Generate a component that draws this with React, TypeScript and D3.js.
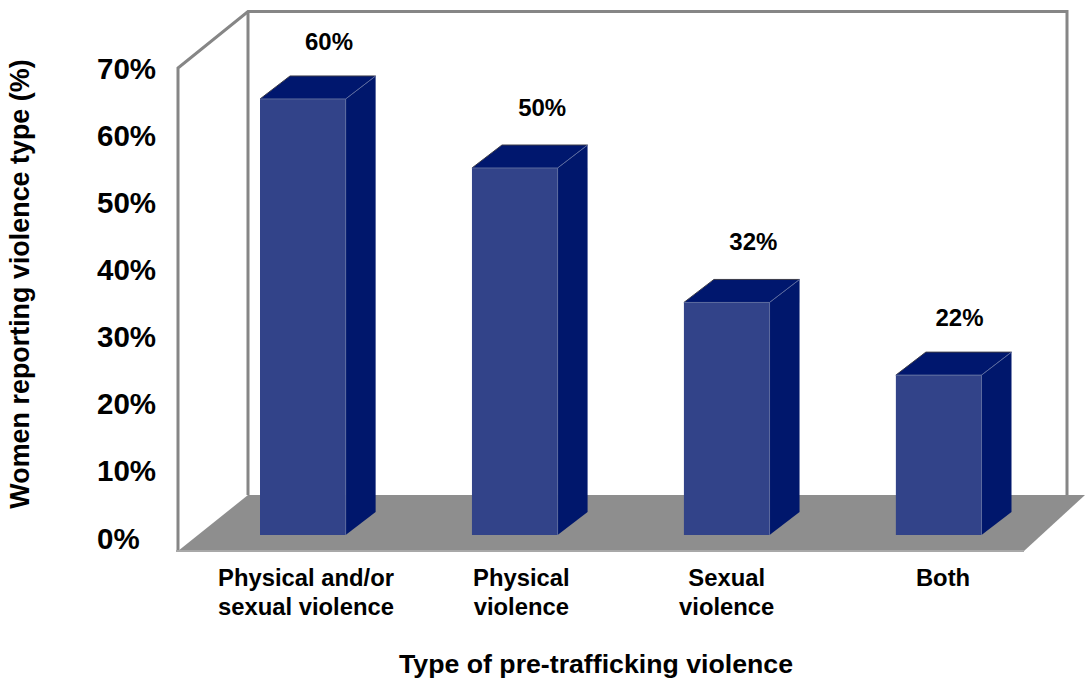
import React from 'react';
import * as d3 from 'd3';

const categories = ['Physical and/or sexual violence', 'Physical violence', 'Sexual violence', 'Both'];
const categoryLines = [['Physical and/or', 'sexual violence'], ['Physical', 'violence'], ['Sexual', 'violence'], ['Both']];
const barValues = [60, 50.5, 32, 22];
const barLabels = ['60%', '50%', '32%', '22%'];
const tickValues = [0, 10, 20, 30, 40, 50, 60, 70];

const width = 1085;
const height = 679;
const font = '"Liberation Sans", Arial, sans-serif';

// bars stand in front of the back wall, the tick labels follow the front edge
const x = d3.scaleBand().domain(categories).range([260, 981.5]).paddingInner(0.596).paddingOuter(0);
const y = d3.scaleLinear().domain([0, 70]).range([535, 26.3]);
const tickY = d3.scaleLinear().domain([0, 70]).range([538, 68]);
const labelX = d3.scalePoint().domain(categories).range([306, 943]);
const valueLabelX = d3.scalePoint().domain(categories).range([329, 959.5]);

const line = d3.line();
const depth = { bar: [30, -23], wall: [70, -55] };

const App = () => {
  const wallLeft = 178;
  const wallBottom = 550;
  const wallRight = 1067;
  const wallTop = 11.5;
  const backBottom = wallBottom + depth.wall[1];
  const backLeft = wallLeft + depth.wall[0];
  // hand placed labels in the original sit a little off the even spacing
  const labelNudge = [0, 3, -4, 0];
  const valueNudge = [0, 3, 4, 0];
  const valueGap = [49, 52, 52, 49];

  const floor = line([[wallLeft, wallBottom + 1], [backLeft, backBottom], [1085, backBottom], [1024, wallBottom + 1]]) + 'Z';
  const walls = line([[wallLeft, wallBottom], [wallLeft, tickY(70)], [backLeft, wallTop], [wallRight, wallTop], [wallRight, backBottom]])!;

  return (
    <svg width={width} height={height} style={{ position: 'absolute', left: 0, top: 0 }} fontFamily={font} fontWeight="bold">
      <path d={floor} fill="#8e8e8e" />
      <path d={`M${wallLeft - 2},${wallBottom + 1}H1024`} stroke="#a8a8a8" strokeWidth={2} fill="none" />
      <path d={walls} fill="none" stroke="#868686" strokeWidth={3} />
      <path d={`M${backLeft},${wallTop}V${backBottom}`} stroke="#868686" strokeWidth={3} fill="none" />

      {categories.map((c, i) => {
        const x0 = x(c)!;
        const x1 = x0 + x.bandwidth();
        const top = y(barValues[i]);
        const bottom = y(0);
        const [dx, dy] = depth.bar;
        return (
          <g key={c}>
            <path
              d={line([[x1, top], [x1 + dx, top + dy], [x1 + dx, bottom + dy], [x1, bottom]])! + 'Z'}
              fill="#00176c"
            />
            <path
              d={line([[x0, top], [x0 + dx, top + dy], [x1 + dx, top + dy], [x1, top]])! + 'Z'}
              fill="#00176e"
            />
            <path
              d={line([[x0, top], [x0 + dx, top + dy], [x1 + dx, top + dy]])!}
              fill="none"
              stroke="#3c3c48"
              strokeWidth={1}
            />
            <rect x={x0} y={top} width={x.bandwidth()} height={bottom - top} fill="#324389" />
            <path
              d={line([[x0, top], [x1, top], [x1 + dx, top + dy]])! + `M${x1},${top}V${bottom}`}
              fill="none"
              stroke="#5b6a9e"
              strokeWidth={1}
            />
            <text x={valueLabelX(c)! + valueNudge[i]} y={top - valueGap[i]} textAnchor="middle" fontSize={24}>
              {barLabels[i]}
            </text>
            <text textAnchor="middle" fontSize={23.8} fill="#000">
              {categoryLines[i].map((l, j) => (
                <tspan key={l} x={labelX(c)! + labelNudge[i]} y={586 + j * 29}>
                  {l}
                </tspan>
              ))}
            </text>
          </g>
        );
      })}

      {tickValues.map(t => (
        <text key={t} x={97} y={tickY(t)} dy="0.36em" fontSize={29.5}>
          {t}%
        </text>
      ))}

      <text transform="translate(29,284) rotate(-90)" textAnchor="middle" fontSize={26.9}>
        Women reporting violence type (%)
      </text>
      <text x={596} y={673} textAnchor="middle" fontSize={26.7}>
        Type of pre-trafficking violence
      </text>
    </svg>
  );
};

export default App;
